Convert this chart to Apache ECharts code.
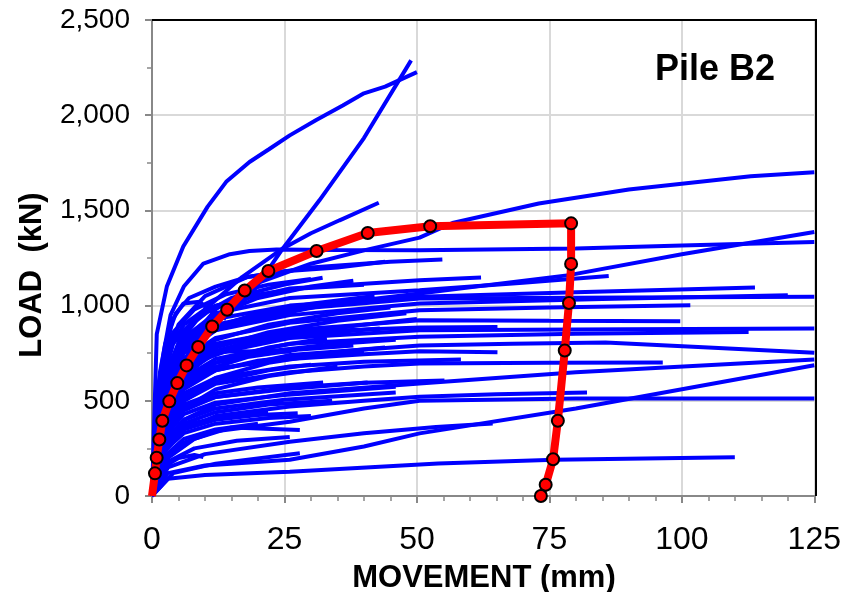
<!DOCTYPE html>
<html>
<head>
<meta charset="utf-8">
<script src="https://cdn.jsdelivr.net/npm/echarts@6/dist/echarts.min.js"></script>
<style>
html,body{margin:0;padding:0;background:#fff;}
#chart{width:844px;height:592px;}
</style>
</head>
<body>
<div id="chart"></div>
<script>
// ---- axis ticks ----
const xTicks = [0, 25, 50, 75, 100, 125];
const yTicks = [0, 500, 1000, 1500, 2000, 2500];
const chartTitle = "Pile B2";
const xTitle = "MOVEMENT (mm)";
const yTitle = "LOAD  (kN)";

// ---- red (selected) curve: [movement mm, load kN] ----
const redCurve = [[0,0],[0.56,119],[0.88,201],[1.38,297],[1.95,395],[3.26,497],[4.77,593],[6.53,686],[8.72,783],[11.36,890],[14.18,978],[17.5,1079],[21.96,1182],[31.06,1287],[40.72,1381],[52.5,1417],[79.1,1432],[79.1,1219],[78.7,1014],[77.9,764],[76.6,395],[75.7,193],[74.3,59],[73.4,0]];

// ---- blue curves: [movement mm, load kN] ----
const blue01 = [[0,0],[0.9,850],[2.8,1100],[5.9,1310],[10.5,1520],[14,1650],[18.4,1754],[22,1820],[26,1894],[31,1975],[36,2051],[40,2115],[44,2150],[50,2226]];
const blue02 = [[0,0],[1.5,400],[4,620],[8,800],[13,950],[18.4,1046],[24.7,1300],[31.6,1553],[40,1880],[48.9,2288]];
const blue03 = [[0,0],[2,550],[5,800],[10,980],[17,1150],[24.7,1300],[30,1380],[35.4,1448],[42.8,1540]];
const blue04 = [[0,0],[1.5,650],[3.5,950],[6,1100],[9.7,1221],[14.7,1270],[18.4,1287],[23.5,1294],[35,1292],[50.5,1291],[80,1300],[100,1315],[125,1334]];
const blue05 = [[0,0],[2,500],[6,780],[12,980],[20,1120],[30,1220],[40,1290],[50.5,1357],[56.7,1434],[73,1536],[90,1610],[113,1679],[125,1701]];
const blue06 = [[0,0],[2,500],[6,760],[12,880],[26,980],[40,1030],[50.5,1063],[78.7,1160],[100,1270],[125,1387]];
const blue07 = [[0,0],[2,560],[6,830],[12,960],[26,1040],[50.5,1081],[70,1120],[86.2,1156]];
const blue08 = [[0,0],[2,600],[6,870],[12,1000],[26,1090],[50.5,1133],[62.1,1147]];
const blue09 = [[0,0],[2,640],[5,900],[10,1050],[18,1150],[30,1200],[45,1230],[54.8,1242]];
const blue10 = [[0,0],[2,540],[6,800],[12,930],[26,1000],[50.5,1046],[80,1070],[113.8,1095]];
const blue11 = [[0,0],[2,500],[6,750],[12,870],[26,950],[50.5,1011],[85,1035],[120,1055]];
const blue12 = [[0,0],[2,520],[6,780],[12,900],[26,980],[50.5,1037],[90,1042],[125,1046]];
const blue13 = [[0,0],[2,480],[6,720],[12,830],[26,910],[50.5,976],[75,990],[101.6,1002]];
const blue14 = [[0,0],[2,460],[6,690],[12,800],[26,870],[50.5,923],[75,920],[99.7,918]];
const blue15 = [[0,0],[2,420],[6,640],[12,750],[26,830],[50.5,871],[90,876],[125,880]];
const blue16 = [[0,0],[2,400],[6,620],[12,720],[26,800],[50.5,836],[80,852],[112.6,862]];
const blue17 = [[0,0],[2,360],[6,560],[12,660],[26,740],[50.5,790],[68,800],[85.6,806],[105,780],[125,752]];
const blue18 = [[0,0],[2,380],[6,580],[12,670],[26,720],[40,745],[50.5,760],[65.2,755]];
const blue19 = [[0,0],[2,450],[6,680],[12,790],[26,860],[50.5,885],[65.2,888]];
const blue20 = [[0,0],[2,360],[6,540],[12,620],[26,680],[40,705],[58.3,717]];
const blue21 = [[0,0],[2,330],[6,500],[12,590],[26,650],[40,680],[50.5,696],[75,700],[96.4,701]];
const blue22 = [[0,0],[2,300],[6,450],[12,520],[26,570],[40,595],[55.2,607]];
const blue23 = [[0,0],[2,250],[6,400],[12,480],[26,540],[50.5,591],[80,650],[125,717]];
const blue24 = [[0,0],[2,220],[6,350],[12,420],[26,470],[40,500],[50.5,521],[65,535],[82.1,544]];
const blue25 = [[0,0],[2,180],[6,280],[12,340],[26,390],[40,460],[50.5,500],[80,512],[125,512]];
const blue26 = [[0,0],[3,150],[10,220],[26,285],[40,330],[53.6,362],[64.3,381]];
const blue27 = [[0,0],[3,120],[10,160],[26,190],[40,260],[50.5,329],[80,460],[125,687]];
const blue28 = [[0,0],[3,90],[10,110],[26,128],[54,171],[76,190],[110,203]];
const blue29 = [[0,0],[2,350],[6,480],[12,540],[20,570],[32.3,596]];
const blue30 = [[0,0],[2,330],[6,470],[12,520],[25,560],[40.7,596]];
const blue31 = [[0,0],[2,300],[6,430],[12,490],[25,530],[46,574]];
const blue32 = [[0,0],[2,280],[6,400],[12,460],[25,505],[46,544]];
const blue33 = [[0,0],[2,250],[6,350],[12,400],[20,425],[27.5,434]];
const blue34 = [[0,0],[2,150],[5,200],[8,215],[9.7,205]];
const blue35 = [[0,0],[2,260],[6,370],[12,410],[21.9,442]];
const blue36 = [[0,0],[1.5,450],[4,650],[8,740],[15,760],[26.3,757]];
const blue37 = [[0,0],[1.5,500],[4,720],[8,830],[15,900],[25,960],[32.2,1000]];
const blue38 = [[0,0],[1.5,550],[4,800],[8,930],[15,1040],[25,1110],[32.2,1146]];
const blue39 = [[0,0],[1,500],[3,760],[6,900],[10,980],[18,1050],[28,1090],[40,1110]];
const blue40 = [[0,0],[1.5,600],[3.8,923],[5.9,1011],[9,1020],[11.5,958],[14,930]];
const blue41 = [[0,0],[1,550],[2.5,800],[4.5,960],[7,1040],[12,1100],[18,1150],[25,1180],[35,1200],[44,1230]];
const blue42 = [[0,0],[2,420],[5,600],[10,720],[18,800],[30,850],[43,880]];
const blue43 = [[0,0],[2,380],[5,560],[10,660],[18,730],[28,770],[38,790]];
const blue44 = [[0,0],[2,400],[6,600],[12,700],[22,760],[35,800],[46,820]];
const blue45 = [[0,0],[2,450],[6,660],[12,780],[22,860],[35,920],[48,960]];
const blue46 = [[0,0],[2,480],[6,700],[12,820],[22,900],[35,960],[45,990]];
const blue47 = [[0,0],[2,420],[6,640],[12,760],[22,840],[30,880]];
const blue48 = [[0,0],[2,300],[6,460],[12,560],[22,630],[35,680]];
const blue49 = [[0,0],[2,320],[6,500],[12,600],[22,660],[30,690]];
const blue50 = [[0,0],[3,200],[8,300],[15,360],[27.9,346]];
const blue51 = [[0,0],[2,560],[6,820],[12,950],[20,1040],[30,1100],[38,1130]];
const blue52 = [[0,0],[2,200],[6,300],[12,350],[20,380]];
const blue53 = [[0,0],[4,120],[12,170],[27.9,224]];
const blue54 = [[0,0],[2,260],[6,380],[12,440],[22,480],[34,500]];
const blue55 = [[0,0],[2,340],[6,520],[12,620],[22,700],[36,760],[44,780]];
const blue56 = [[0,0],[2,380],[6,590],[12,700],[22,780],[33,830]];
const blue57 = [[0,0],[2,440],[6,650],[12,760],[22,830],[40,900],[50,930]];
const blue58 = [[0,0],[1.5,500],[5,760],[10,870],[20,960],[30,1010],[42,1050]];
const blue59 = [[0,0],[2,230],[6,330],[12,380],[22,410],[30,420]];
const blue60 = [[0,0],[3,180],[8,250],[16,290],[26,310]];
const blue61 = [[0,0],[1.5,600],[4,860],[8,980],[14,1060],[22,1110],[30,1140]];
const blue62 = [[0,0],[2,400],[6,580],[12,660],[20,710],[30,740],[40,760]];

const blueCurves = [blue01,blue02,blue03,blue04,blue05,blue06,blue07,blue08,blue09,blue10,
  blue11,blue12,blue13,blue14,blue15,blue16,blue17,blue18,blue19,blue20,
  blue21,blue22,blue23,blue24,blue25,blue26,blue27,blue28,blue29,blue30,
  blue31,blue32,blue33,blue34,blue35,blue36,blue37,blue38,blue39,blue40,
  blue41,blue42,blue43,blue44,blue45,blue46,blue47,blue48,blue49,blue50,
  blue51,blue52,blue53,blue54,blue55,blue56,blue57,blue58,blue59,blue60,
  blue61,blue62];

const chart = echarts.init(document.getElementById('chart'), null, {renderer:'canvas'});
const fontMain = "'Liberation Sans', Arial, sans-serif";

const series = blueCurves.map((d, i) => ({
  type: 'line', name: 'b' + i, data: d, showSymbol: false, symbol: 'none',
  lineStyle: {color: '#0000ff', width: 4}, z: 2, silent: true, animation: false
}));
series.push({
  type: 'line', name: 'red', z: 5, animation: false, silent: true,
  data: redCurve.map((p, i) => i === 0 ? {value: p, symbol: 'none'} : p),
  symbol: 'circle', symbolSize: 12, showSymbol: true,
  lineStyle: {color: '#ff0000', width: 8},
  itemStyle: {color: '#ff0000', borderColor: '#000', borderWidth: 2}
});

// plot frame (layout only)
const G = {left: 152, right: 28, top: 20, bottom: 96, W: 844, H: 592};
const plotR = G.W - G.right, plotB = G.H - G.bottom;

chart.setOption({
  backgroundColor: '#fff',
  animation: false,
  grid: {left: G.left, right: G.right, top: G.top, bottom: G.bottom, show: false},
  xAxis: {
    type: 'value', min: xTicks[0], max: xTicks[xTicks.length-1], interval: 25,
    axisLine: {show: true, lineStyle: {color: '#888', width: 2}},
    axisTick: {show: true, length: 7, lineStyle: {color: '#888', width: 2}},
    minorTick: {show: true, splitNumber: 5, length: 5, lineStyle: {color: '#888', width: 1.5}},
    splitLine: {show: true, lineStyle: {color: '#d9d9d9', width: 2}},
    axisLabel: {fontFamily: fontMain, fontSize: 32, color: '#000', margin: 28}
  },
  yAxis: {
    type: 'value', min: yTicks[0], max: yTicks[yTicks.length-1], interval: 500,
    axisLine: {show: true, lineStyle: {color: '#888', width: 2}},
    axisTick: {show: true, length: 7, lineStyle: {color: '#888', width: 2}},
    minorTick: {show: true, splitNumber: 2, length: 5, lineStyle: {color: '#888', width: 1.5}},
    splitLine: {show: true, lineStyle: {color: '#d9d9d9', width: 2}},
    axisLabel: {fontFamily: fontMain, fontSize: 28, color: '#000', margin: 22,
      formatter: v => v.toLocaleString('en-US')}
  },
  graphic: [
    {type: 'polyline', z: 100, silent: true, shape: {points: [[G.left, G.top], [plotR, G.top], [plotR, plotB]]}, style: {stroke: '#000', lineWidth: 2, fill: null}},
    {type: 'text', left: 655, top: 52, z: 10, style: {text: chartTitle, font: "bold 36px 'Liberation Sans', Arial, sans-serif", fill: '#000'}},
    {type: 'text', x: 484, y: 578, z: 10, style: {text: xTitle, font: "bold 31px 'Liberation Sans', Arial, sans-serif", fill: '#000', align: 'center', verticalAlign: 'middle'}},
    {type: 'text', x: 32, y: 275, rotation: Math.PI/2, z: 10, style: {text: yTitle, font: "bold 31px 'Liberation Sans', Arial, sans-serif", fill: '#000', align: 'center', verticalAlign: 'middle'}}
  ],
  series: series
});
</script>
</body>
</html>
